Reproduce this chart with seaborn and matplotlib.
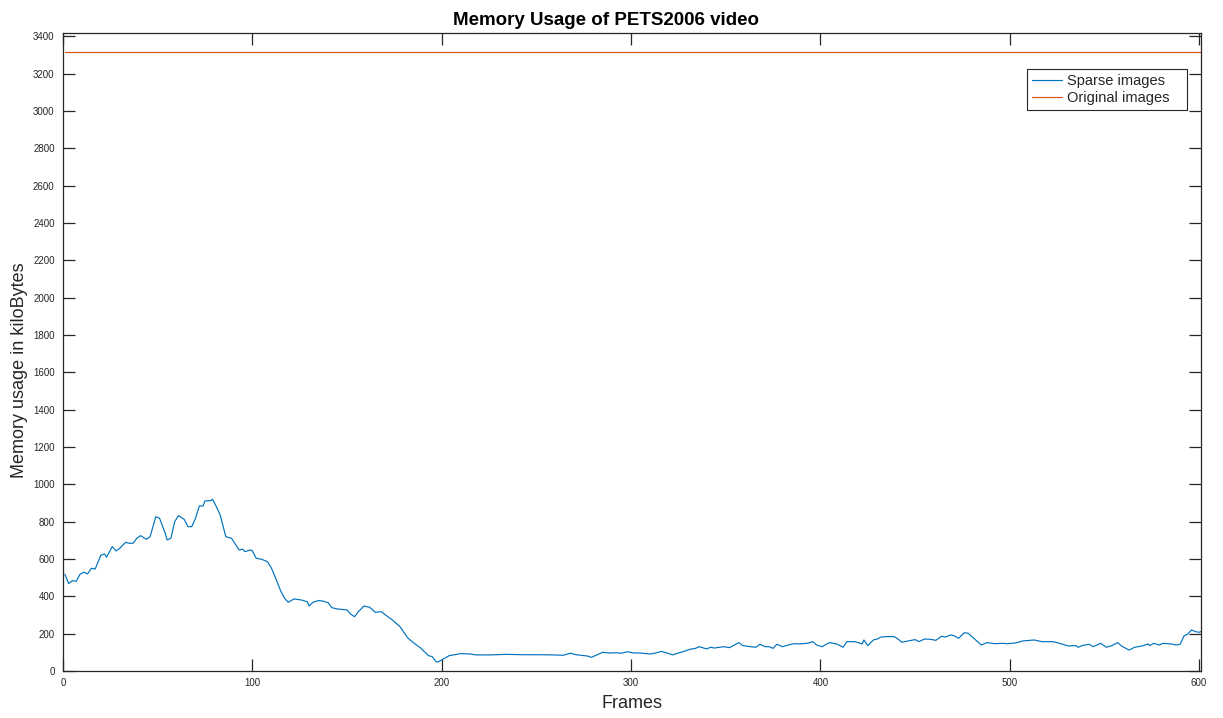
import matplotlib
matplotlib.use("Agg")
import matplotlib.pyplot as plt
import seaborn as sns
import numpy as np
import pandas as pd

# ---- data ----
sparse_frames = [1, 3, 5, 7, 9, 11, 13, 15, 17, 20, 22, 23, 26, 28, 30, 33, 35, 37, 39, 41,
                 44, 46, 49, 51, 54, 55, 57, 59, 61, 64, 66, 68, 70, 72, 74, 75, 78, 79, 81, 83,
                 86, 89, 93, 95, 96, 99, 100, 102, 105, 108, 110, 112, 115, 117, 119, 122, 126, 129, 130, 132,
                 135, 137, 140, 142, 145, 150, 152, 154, 156, 159, 162, 165, 168, 171, 174, 178, 182, 185, 189, 193,
                 195, 197, 198, 201, 204, 210, 215, 218, 226, 234, 243, 252, 259, 264, 268, 271, 277, 279, 282, 285,
                 289, 292, 295, 298, 301, 305, 310, 313, 316, 319, 322, 324, 328, 331, 334, 336, 337, 340, 342, 344,
                 347, 349, 352, 354, 357, 359, 363, 366, 368, 371, 373, 375, 377, 380, 383, 386, 389, 393, 396, 398,
                 401, 403, 405, 409, 412, 414, 418, 420, 422, 423, 425, 428, 430, 432, 435, 439, 441, 443, 447, 450,
                 452, 455, 458, 461, 464, 466, 469, 471, 473, 476, 478, 481, 485, 488, 492, 496, 499, 503, 507, 513,
                 517, 520, 523, 527, 531, 535, 536, 539, 542, 544, 548, 551, 554, 557, 559, 563, 566, 570, 573, 574,
                 576, 579, 581, 585, 588, 590, 592, 594, 596, 598, 600, 601]
sparse_kb = [518, 468, 484, 480, 518, 529, 520, 550, 546, 620, 627, 609, 666, 643, 657, 689, 684, 684, 711, 725,
             705, 719, 826, 818, 737, 702, 711, 800, 832, 812, 773, 773, 818, 884, 884, 911, 912, 920, 880, 836,
             719, 711, 648, 652, 639, 648, 644, 604, 598, 585, 553, 505, 428, 389, 368, 386, 380, 371, 348, 368,
             377, 375, 366, 339, 332, 327, 304, 291, 318, 348, 341, 314, 318, 295, 273, 237, 178, 152, 122, 82,
             77, 50, 48, 65, 82, 93, 91, 86, 86, 89, 87, 87, 86, 84, 95, 87, 80, 73, 86, 100,
             96, 98, 95, 103, 97, 96, 91, 96, 105, 96, 86, 93, 105, 116, 121, 130, 127, 118, 127, 123,
             127, 130, 125, 136, 152, 136, 130, 127, 143, 130, 130, 121, 143, 130, 139, 146, 145, 148, 157, 139,
             130, 143, 152, 143, 127, 157, 157, 152, 145, 166, 136, 166, 171, 182, 184, 184, 171, 154, 162, 168,
             157, 171, 170, 164, 186, 182, 193, 187, 175, 205, 202, 175, 139, 152, 146, 148, 146, 150, 161, 166,
             157, 157, 157, 146, 134, 136, 127, 138, 143, 130, 148, 127, 136, 152, 134, 112, 127, 134, 145, 136,
             148, 139, 148, 145, 139, 143, 187, 198, 220, 211, 207, 211]
original_frames = [1, 601]
original_kb = [3317, 3317]

series_names = ["Sparse images", "Original images"]
x_ticks = [0, 100, 200, 300, 400, 500, 600]
y_ticks = list(range(0, 3401, 200))

df = pd.concat([
    pd.DataFrame({"Frames": sparse_frames, "kB": sparse_kb, "series": series_names[0]}),
    pd.DataFrame({"Frames": original_frames, "kB": original_kb, "series": series_names[1]}),
], ignore_index=True)

sns.set_style("white")
plt.rcParams["font.family"] = ["Liberation Sans", "DejaVu Sans"]

fig = plt.figure(figsize=(12.23, 7.18), dpi=100)
ax = fig.add_axes([0.0515, 0.0655, 0.9305, 0.888])

sns.lineplot(data=df, x="Frames", y="kB", hue="series", hue_order=series_names,
             palette=["#0072BD", "#D95319"], estimator=None, sort=False,
             linewidth=0.85, ax=ax)

ax.set_xlim(0, 601)
ax.set_ylim(0, 3415)
ax.set_xticks(x_ticks)
ax.set_yticks(y_ticks)

edge = "#262626"
for s in ax.spines.values():
    s.set_visible(True)
    s.set_color(edge)
    s.set_linewidth(0.9)

ax.tick_params(axis="both", which="major", direction="in", length=8.6, width=0.9,
               color=edge, labelcolor=edge, labelsize=7,
               top=True, right=True, left=True, bottom=True)
ax.tick_params(axis="y", pad=6)
ax.tick_params(axis="x", pad=5)

ax.set_xlabel("Frames", fontsize=13, color=edge, labelpad=5)
ax.set_ylabel("Memory usage in kiloBytes", fontsize=13, color=edge)
ax.yaxis.set_label_coords(-0.031, 0.472)
ax.set_title("Memory Usage of PETS2006 video", fontsize=13.5, fontweight="bold",
             color="black", pad=6, x=0.477)

handles, labels = ax.get_legend_handles_labels()
leg = ax.legend(handles, [l + "   " for l in labels],
                loc="upper right", bbox_to_anchor=(0.9874, 0.9437), borderaxespad=0,
                fontsize=10.5, frameon=True, fancybox=False, framealpha=1,
                edgecolor=edge, handlelength=2.1, handletextpad=0.3,
                borderpad=0.35, labelspacing=0.2, title=None)
leg.get_frame().set_linewidth(0.8)

fig.savefig("out.png", dpi=100)
